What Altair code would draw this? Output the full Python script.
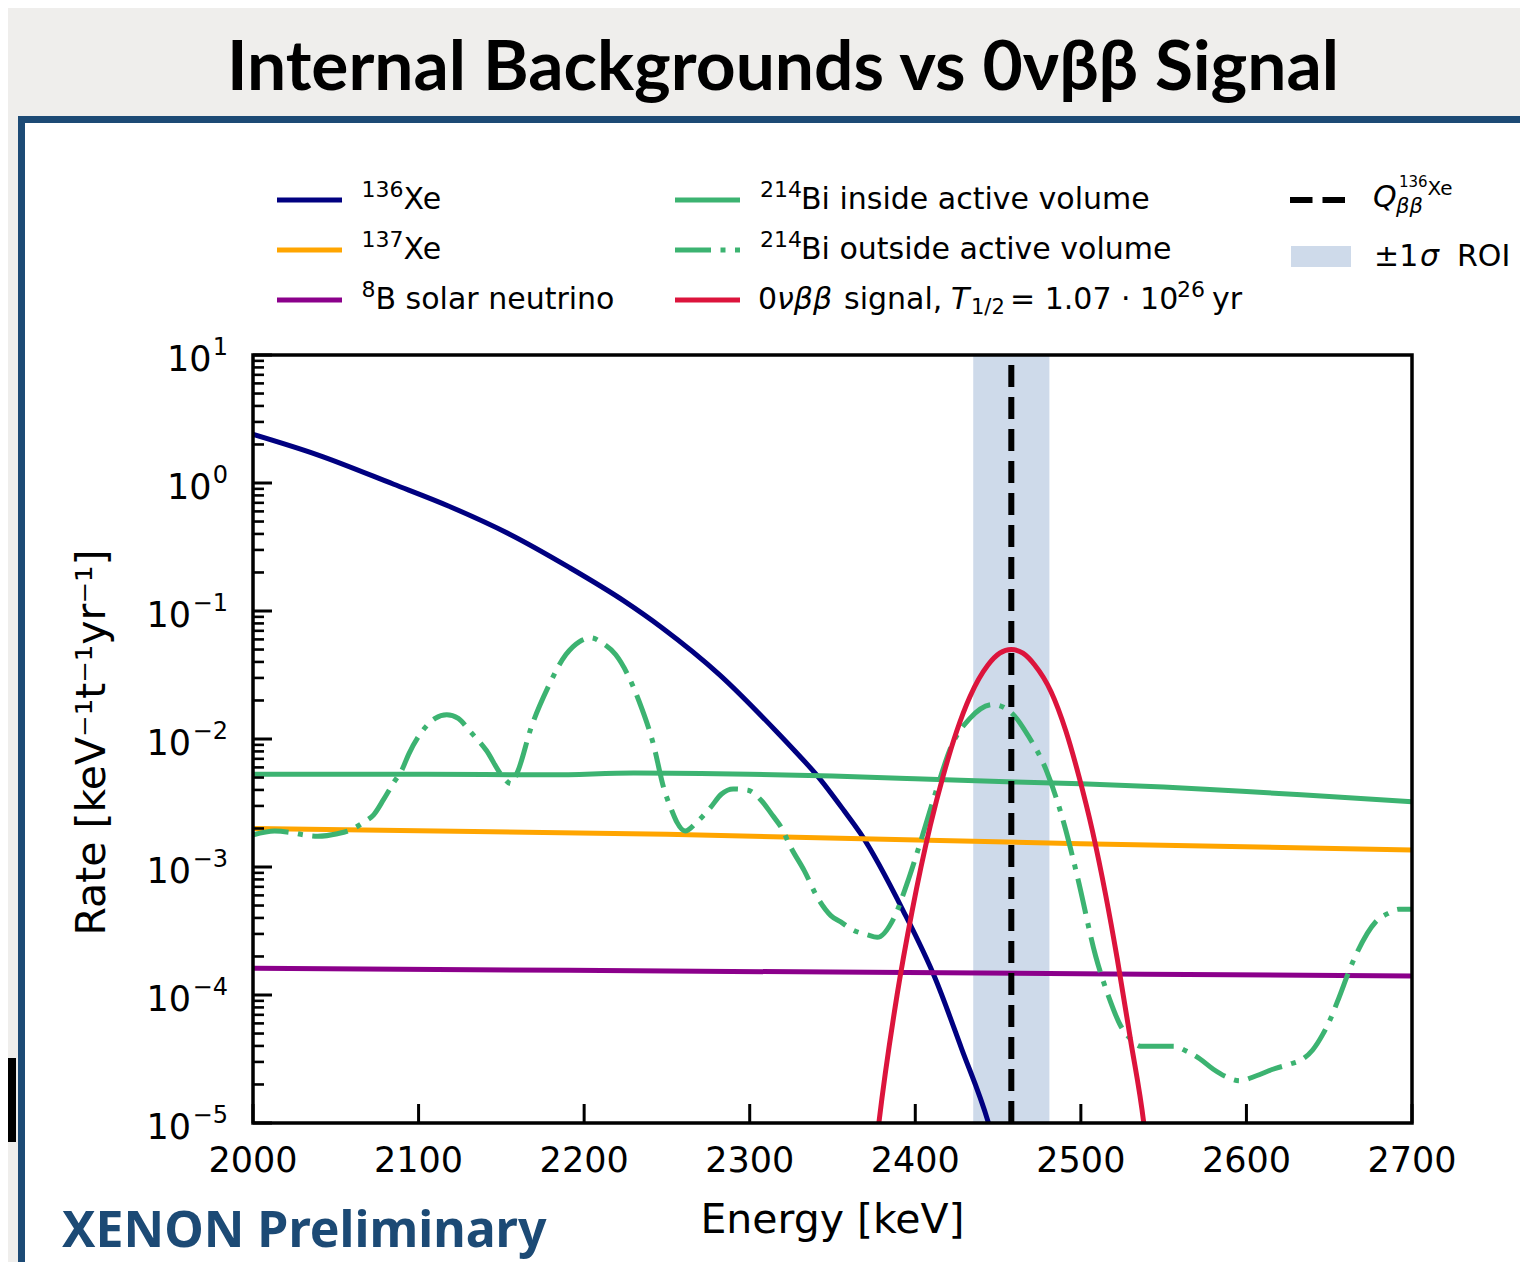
import altair as alt
import pandas as pd

# ---------------- data ----------------
xe136_energy = [2000, 2039, 2085, 2118, 2155, 2191, 2224, 2247, 2282, 2316, 2327, 2341,
                2357, 2367, 2393, 2412, 2428, 2444, 2449]
xe136_rate = [2.40, 1.66, 0.977, 0.661, 0.398, 0.219, 0.120, 0.0741, 0.0316, 0.0115,
              0.00813, 0.00513, 0.00275, 0.00182, 4.47e-4, 1.35e-4, 3.80e-5, 1.02e-5, 6.0e-6]

xe137_energy = [2000, 2250, 2500, 2700]
xe137_rate = [2.00e-3, 1.80e-3, 1.52e-3, 1.36e-3]

b8_energy = [2000, 2350, 2700]
b8_rate = [1.62e-4, 1.51e-4, 1.41e-4]

bi_in_energy = [2000, 2100, 2180, 2230, 2300, 2350, 2400, 2460, 2500, 2550, 2600, 2650, 2700]
bi_in_rate = [5.31e-3, 5.31e-3, 5.25e-3, 5.43e-3, 5.31e-3, 5.13e-3, 4.90e-3, 4.62e-3,
              4.47e-3, 4.22e-3, 3.89e-3, 3.55e-3, 3.24e-3]

bi_out_energy = [2000, 2013, 2023, 2031, 2039, 2051, 2059, 2067, 2073, 2079, 2085, 2090,
                 2094, 2104, 2110, 2117, 2124, 2131, 2141, 2150, 2156, 2160, 2168, 2178,
                 2189, 2197, 2204, 2211, 2219, 2233, 2242, 2248, 2253, 2256, 2261, 2268,
                 2276, 2283, 2290, 2299, 2307, 2314, 2319, 2325, 2333, 2341, 2349, 2355,
                 2362, 2371, 2377, 2387, 2395, 2403, 2412, 2422, 2433, 2447, 2460, 2468,
                 2479, 2490, 2498, 2509, 2517, 2524, 2529, 2536, 2547, 2556, 2564, 2572,
                 2580, 2588, 2596, 2606, 2616, 2626, 2634, 2640, 2646, 2651, 2655, 2665,
                 2678, 2686, 2692, 2700]
bi_out_rate = [1.78e-3, 1.91e-3, 1.86e-3, 1.78e-3, 1.74e-3, 1.82e-3, 1.95e-3, 2.24e-3,
               2.57e-3, 3.39e-3, 4.57e-3, 5.75e-3, 7.59e-3, 1.23e-2, 1.45e-2, 1.55e-2,
               1.45e-2, 1.15e-2, 8.13e-3, 5.25e-3, 4.47e-3, 5.62e-3, 1.23e-2, 2.51e-2,
               4.57e-2, 5.75e-2, 6.17e-2, 5.62e-2, 4.57e-2, 2.00e-2, 8.91e-3, 4.17e-3,
               2.75e-3, 2.24e-3, 1.91e-3, 2.24e-3, 2.88e-3, 3.72e-3, 4.07e-3, 3.98e-3,
               3.31e-3, 2.51e-3, 2.04e-3, 1.41e-3, 9.33e-4, 5.75e-4, 4.17e-4, 3.72e-4,
               3.24e-4, 2.95e-4, 2.82e-4, 3.98e-4, 7.41e-4, 1.55e-3, 3.72e-3, 8.91e-3,
               1.45e-2, 1.86e-2, 1.51e-2, 1.07e-2, 5.75e-3, 2.14e-3, 8.32e-4, 2.00e-4,
               9.55e-5, 5.75e-5, 4.68e-5, 3.98e-5, 3.98e-5, 3.98e-5, 3.63e-5, 3.16e-5,
               2.63e-5, 2.29e-5, 2.14e-5, 2.34e-5, 2.63e-5, 2.88e-5, 3.16e-5, 3.72e-5,
               4.90e-5, 6.61e-5, 8.91e-5, 1.91e-4, 3.72e-4, 4.37e-4, 4.68e-4, 4.68e-4]

signal_energy = [2376, 2378, 2389, 2398, 2409, 2417, 2425, 2433, 2444, 2451, 2458, 2465,
                 2472, 2482, 2491, 2499, 2507, 2515, 2522, 2530, 2538, 2540]
signal_rate = [6.0e-6, 1.00e-5, 1.00e-4, 4.47e-4, 2.09e-3, 5.25e-3, 1.15e-2, 2.14e-2,
               3.80e-2, 4.68e-2, 5.01e-2, 4.68e-2, 3.80e-2, 2.34e-2, 1.15e-2, 5.01e-3,
               1.91e-3, 6.03e-4, 1.91e-4, 4.47e-5, 1.00e-5, 6.0e-6]

q_value = [2458]
roi_low = [2435]
roi_high = [2481]

x_tick_values = [2000, 2100, 2200, 2300, 2400, 2500, 2600, 2700]
x_tick_labels = ["2000", "2100", "2200", "2300", "2400", "2500", "2600", "2700"]
y_tick_values = [10, 1, 0.1, 0.01, 0.001, 1e-4, 1e-5]
y_tick_exponents = ["1", "0", "\u22121", "\u22122", "\u22123", "\u22124", "\u22125"]
minor_mantissas = [2, 3, 4, 5, 6, 7, 8, 9]
minor_decades = [-5, -4, -3, -2, -1, 0]

# ---------------- layout ----------------
W, H = 1159, 768
FONT = "DejaVu Sans"
FRAME_BLUE = "#1c4a75"

xs = alt.Scale(domain=[2000, 2700], nice=False, zero=False)
ys = alt.Scale(type="log", domain=[1e-5, 10], nice=False)


def X(f):
    return alt.X(f, type="quantitative", scale=xs, axis=None)


def Y(f):
    return alt.Y(f, type="quantitative", scale=ys, axis=None)


one = pd.DataFrame({"k": [0]})


def txt(text, x, y, size=30, italic=False, align="left", color="black",
        font=FONT, weight="normal", angle=0):
    return alt.Chart(one).mark_text(
        text=text, align=align, baseline="alphabetic", font=font, fontSize=size,
        fontStyle="italic" if italic else "normal", fontWeight=weight,
        color=color, angle=angle
    ).encode(x=alt.value(x), y=alt.value(y))


layers = []

# slide frame (white panel with blue border) and side artifact
layers.append(alt.Chart(one).mark_rect(fill="white", stroke=FRAME_BLUE, strokeWidth=7).encode(
    x=alt.value(-231.5), x2=alt.value(1500), y=alt.value(-235.5), y2=alt.value(1200)))
layers.append(alt.Chart(one).mark_rect(fill="black").encode(
    x=alt.value(-270), x2=alt.value(-237), y=alt.value(703), y2=alt.value(787)))

# ROI band
roi_df = pd.DataFrame({"lo": roi_low, "hi": roi_high})
layers.append(alt.Chart(roi_df).mark_rect(color="#cedaea").encode(
    x=X("lo"), x2=alt.X2("hi"), y=alt.value(0), y2=alt.value(H)))

LW = 5


def series(e, r, color, dash=None):
    df = pd.DataFrame({"energy": e, "rate": r})
    kw = dict(color=color, strokeWidth=LW, clip=True, interpolate="monotone", strokeCap="butt")
    if dash:
        kw["strokeDash"] = dash
    return alt.Chart(df).mark_line(**kw).encode(x=X("energy"), y=Y("rate"), order="energy:Q")


DASHDOT = [36, 9.5, 5, 9.5]
layers.append(series(xe136_energy, xe136_rate, "#000080"))
layers.append(series(xe137_energy, xe137_rate, "#ffa500"))
layers.append(series(b8_energy, b8_rate, "#8b008b"))
layers.append(series(bi_in_energy, bi_in_rate, "#3cb371"))
layers.append(series(bi_out_energy, bi_out_rate, "#3cb371", DASHDOT))
layers.append(series(signal_energy, signal_rate, "#dc143c"))

# Q value line
q_df = pd.DataFrame({"q": q_value})
layers.append(alt.Chart(q_df).mark_rule(color="black", strokeWidth=6, strokeDash=[22, 10]).encode(
    x=X("q"), y=alt.value(H), y2=alt.value(0)))

# inward ticks
xt_df = pd.DataFrame({"value": x_tick_values, "label": x_tick_labels})
layers.append(alt.Chart(xt_df).mark_rule(color="black", strokeWidth=3).encode(
    x=X("value"), y=alt.value(H), y2=alt.value(H - 19)))
yt_df = pd.DataFrame({"value": y_tick_values, "exp": y_tick_exponents})
layers.append(alt.Chart(yt_df).mark_rule(color="black", strokeWidth=3).encode(
    y=Y("value"), x=alt.value(0), x2=alt.value(19)))
minor_df = pd.DataFrame({"value": [m * 10.0 ** d for d in minor_decades for m in minor_mantissas]})
layers.append(alt.Chart(minor_df).mark_rule(color="black", strokeWidth=2.6).encode(
    y=Y("value"), x=alt.value(0), x2=alt.value(11)))

# spines
layers.append(alt.Chart(one).mark_rect(fill="transparent", stroke="black", strokeWidth=3.5).encode(
    x=alt.value(0), x2=alt.value(W), y=alt.value(0), y2=alt.value(H)))

# tick labels
layers.append(alt.Chart(xt_df).mark_text(font=FONT, fontSize=35, align="center", baseline="alphabetic").encode(
    x=X("value"), y=alt.value(816.7), text="label:N"))
layers.append(alt.Chart(yt_df).transform_filter("datum.value >= 1").mark_text(
    text="10", font=FONT, fontSize=35, align="right", baseline="alphabetic", dy=15.5).encode(
    x=alt.value(-41.5), y=Y("value")))
layers.append(alt.Chart(yt_df).transform_filter("datum.value < 1").mark_text(
    text="10", font=FONT, fontSize=35, align="right", baseline="alphabetic", dy=15.5).encode(
    x=alt.value(-62), y=Y("value")))
layers.append(alt.Chart(yt_df).mark_text(
    font=FONT, fontSize=24, align="right", baseline="alphabetic", dy=-0.5).encode(
    x=alt.value(-25), y=Y("value"), text="exp:N"))

# axis titles
layers.append(txt("Energy [keV]", 579.5, 878, size=41, align="center"))
layers.append(txt("Rate [keV\u207b\u00b9t\u207b\u00b9yr\u207b\u00b9]", -148.5, 387.5, size=41,
                  align="center", angle=270))

# ---------------- legend ----------------
rows = [-155, -105, -55]
base = [-146.5, -96.5, -46.5]
SUP = 11.6


def leg_line(x1, x2, y, color, dash=None, width=LW):
    kw = dict(color=color, strokeWidth=width, strokeCap="butt")
    if dash:
        kw["strokeDash"] = dash
    return alt.Chart(one).mark_rule(**kw).encode(x=alt.value(x1), x2=alt.value(x2), y=alt.value(y))


# column 1
layers.append(leg_line(24, 89, rows[0], "#000080"))
layers.append(leg_line(24, 89, rows[1], "#ffa500"))
layers.append(leg_line(24, 89, rows[2], "#8b008b"))
layers.append(txt("136", 108.5, base[0] - SUP, size=22))
layers.append(txt("Xe", 150.5, base[0]))
layers.append(txt("137", 108.5, base[1] - SUP, size=22))
layers.append(txt("Xe", 150.5, base[1]))
layers.append(txt("8", 108.5, base[2] - SUP, size=22))
layers.append(txt("B solar neutrino", 122.5, base[2]))

# column 2
layers.append(leg_line(422, 487, rows[0], "#3cb371"))
layers.append(leg_line(422, 487, rows[1], "#3cb371", DASHDOT))
layers.append(leg_line(422, 487, rows[2], "#dc143c"))
layers.append(txt("214", 507, base[0] - SUP, size=22))
layers.append(txt("Bi inside active volume", 548, base[0]))
layers.append(txt("214", 507, base[1] - SUP, size=22))
layers.append(txt("Bi outside active volume", 548, base[1]))
layers.append(txt("0", 505, base[2]))
layers.append(txt("\u03bd\u03b2\u03b2", 524, base[2], italic=True))
layers.append(txt("signal,", 591, base[2]))
layers.append(txt("T", 698, base[2], italic=True))
layers.append(txt("1/2", 718, base[2] + 5, size=21))
layers.append(txt("= 1.07 \u00b7 10", 757, base[2]))
layers.append(txt("26", 924, base[2] - SUP, size=22))
layers.append(txt("yr", 959, base[2]))

# column 3
layers.append(leg_line(1037, 1092, rows[0], "black", [22.5, 10], width=6))
layers.append(alt.Chart(one).mark_rect(color="#cedaea").encode(
    x=alt.value(1038), x2=alt.value(1098), y=alt.value(-109), y2=alt.value(-88)))
layers.append(txt("Q", 1120, -148.3, italic=True))
layers.append(txt("\u03b2\u03b2", 1143, -142.5, size=21, italic=True))
layers.append(txt("136", 1146, -168.3, size=15))
layers.append(txt("Xe", 1174.5, -160, size=20))
layers.append(txt("\u00b11", 1121, -89))
layers.append(txt("\u03c3", 1167, -89, italic=True))
layers.append(txt("ROI", 1204, -89))

# slide title and label
layers.append(txt("Internal Backgrounds vs 0\u03bd\u03b2\u03b2 Signal", 530, -265, size=69.5,
                  align="center", font="Lato", weight="bold"))
layers.append(txt("XENON Preliminary", -191, 892, size=50, font="Noto Sans", weight="bold",
                  color=FRAME_BLUE))

chart = alt.layer(*layers).properties(
    width=W, height=H,
    autosize=alt.AutoSizeParams(type="none"),
    padding={"left": 245, "top": 347, "right": 108, "bottom": 139},
    background="#efeeec",
).configure_view(stroke=None)

chart.save("out.html", embed_options={"renderer": "svg", "actions": False})
